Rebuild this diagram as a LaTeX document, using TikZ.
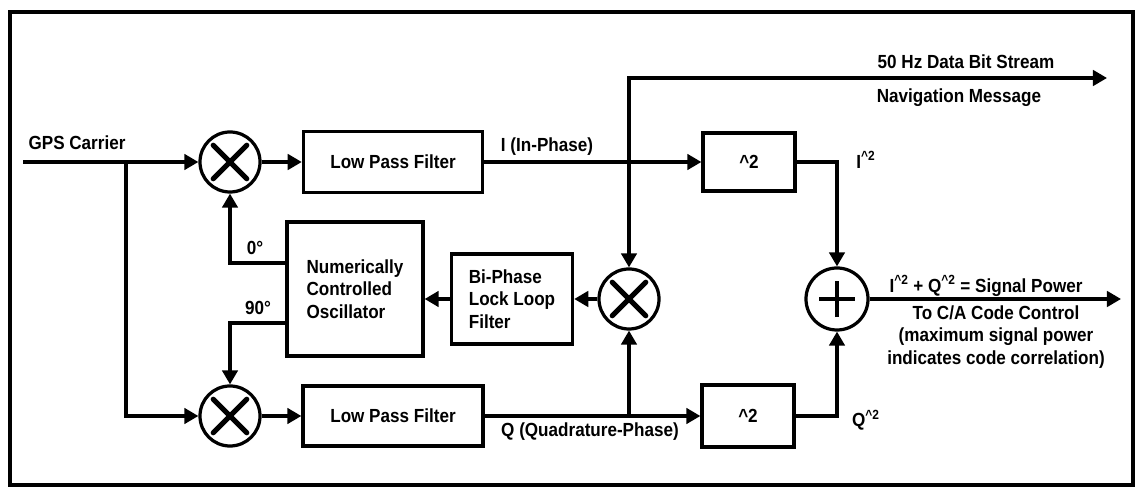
\documentclass[tikz,border=0pt]{standalone}
\usepackage{fontspec}
\setmainfont{Liberation Sans}[FakeStretch=0.9]
\usepackage{tikz}
\usetikzlibrary{arrows.meta,positioning,calc}
\newcommand{\pllfont}{\fontsize{13.5pt}{16pt}\selectfont\bfseries}
\tikzset{
  pllbox/.style={draw, rectangle, line width=2.3pt, inner sep=3pt, font=\pllfont},
  pllmix/.style={draw, circle, line width=2.3pt, minimum size=1.5cm, inner sep=0pt,
    path picture={\draw[line width=3.6pt, line cap=round]
      ([shift={(-0.42cm,-0.42cm)}]path picture bounding box.center) -- ([shift={(0.42cm,0.42cm)}]path picture bounding box.center)
      ([shift={(-0.42cm,0.42cm)}]path picture bounding box.center) -- ([shift={(0.42cm,-0.42cm)}]path picture bounding box.center);}},
  pllsum/.style={draw, circle, line width=2.3pt, minimum size=1.55cm, inner sep=0pt,
    path picture={\draw[line width=3pt]
      ([xshift=-0.45cm]path picture bounding box.center) -- ([xshift=0.45cm]path picture bounding box.center)
      ([yshift=-0.45cm]path picture bounding box.center) -- ([yshift=0.45cm]path picture bounding box.center);}},
  pllarrow/.style={-{Triangle[length=10pt,width=11pt]}, line width=2.3pt},
  pllline/.style={line width=2.3pt},
  plllabel/.style={font=\pllfont, inner sep=1pt},
}
\begin{document}
\begin{tikzpicture}[x=0.025cm,y=-0.025cm]
  \useasboundingbox (0,0) rectangle (1138,497);
  \draw[pllline] (10,12) rectangle (1133,485);

  \node[plllabel] (gpslbl) at (77,143) {GPS Carrier};
  \coordinate (gpsin) at (23,162);
  \coordinate (gpsj) at (126,162);

  \node[pllmix] (mixI) at (230,162) {};
  \node[pllbox, minimum width=4.48cm, minimum height=1.52cm] (lpfI) at (393,162) {Low Pass Filter};
  \node[plllabel] (ilbl) at (547,147) {I (In-Phase)};
  \coordinate (jI) at (629,162);
  \node[pllbox, minimum width=2.3cm, minimum height=1.45cm] (sqI) at (749,162) {{\textasciicircum}2};
  \node[plllabel] (i2lbl) at (866,160) {I\textsuperscript{\textasciicircum2}};

  \coordinate (navend) at (1107,78);
  \node[plllabel] (datalbl) at (966,62) {50 Hz Data Bit Stream};
  \node[plllabel] (navlbl) at (959,98) {Navigation Message};

  \node[pllbox, align=left, minimum width=3.4cm, minimum height=3.35cm] (nco) at (355,289)
    {Numerically\\Controlled\\Oscillator};
  \node[pllbox, align=left, minimum width=3.03cm, minimum height=2.25cm] (bpf) at (512,299)
    {Bi-Phase\\Lock Loop\\Filter};
  \node[pllmix] (mixM) at (629,299) {};
  \node[pllsum] (adder) at (837,299) {};
  \coordinate (powout) at (1121,299);
  \node[plllabel] (powlbl) at (986,286)
    {I\textsuperscript{\textasciicircum2} + Q\textsuperscript{\textasciicircum2} = Signal Power};
  \node[plllabel, align=center] (codelbl) at (996,337)
    {To C/A Code Control\\(maximum signal power\\indicates code correlation)};

  \node[plllabel] (deg0) at (255,248) {0°};
  \node[plllabel] (deg90) at (258,308) {90°};

  \node[pllmix] (mixQ) at (230,416) {};
  \node[pllbox, minimum width=4.5cm, minimum height=1.5cm] (lpfQ) at (393,416) {Low Pass Filter};
  \node[plllabel] (qlbl) at (590,432) {Q (Quadrature-Phase)};
  \coordinate (jQ) at (629,416);
  \node[pllbox, minimum width=2.3cm, minimum height=1.55cm] (sqQ) at (748,416) {{\textasciicircum}2};
  \node[plllabel] (q2lbl) at (866,420) {Q\textsuperscript{\textasciicircum2}};

  \draw[pllarrow] (gpsin) -- (mixI.west);
  \draw[pllarrow] (gpsj) |- (mixQ.west);
  \draw[pllarrow] (mixI.east) -- (lpfI.west);
  \draw[pllarrow] (mixQ.east) -- (lpfQ.west);
  \draw[pllarrow] (lpfI.east) -- (sqI.west);
  \draw[pllarrow] (lpfQ.east) -- (sqQ.west);
  \draw[pllarrow] (jI) |- (navend);
  \draw[pllarrow] (jI) -- (mixM.north);
  \draw[pllarrow] (jQ) -- (mixM.south);
  \draw[pllarrow] (mixM.west) -- (bpf.east);
  \draw[pllarrow] (bpf.west) -- (bpf.west -| nco.east);
  \draw[pllarrow] ([yshift=0.65cm]nco.west) -| (mixI.south);
  \draw[pllarrow] ([yshift=-0.85cm]nco.west) -| (mixQ.north);
  \draw[pllarrow] (sqI.east) -| (adder.north);
  \draw[pllarrow] (sqQ.east) -| (adder.south);
  \draw[pllarrow] (adder.east) -- (powout);
\end{tikzpicture}
\end{document}
